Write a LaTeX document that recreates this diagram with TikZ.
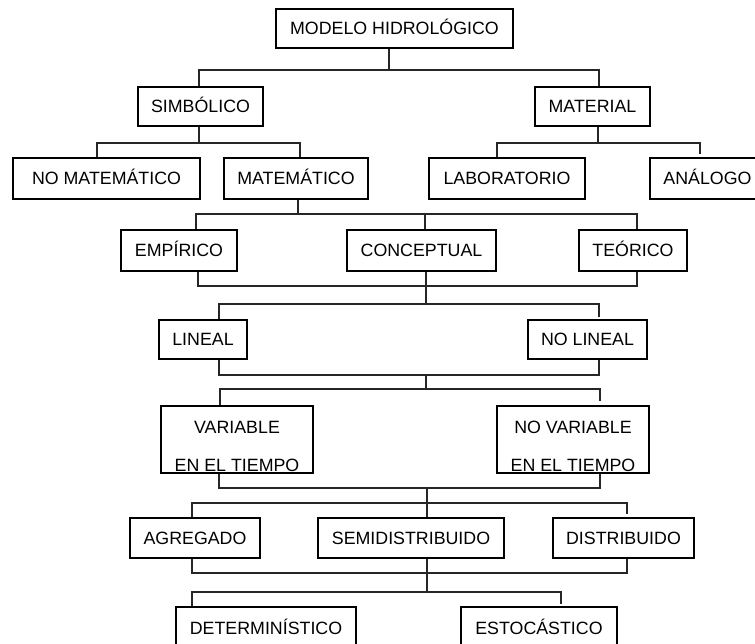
\documentclass[tikz,border=0pt]{standalone}
\usepackage{fontspec}
\setmainfont{Liberation Sans}
\tikzset{
  box/.style={draw=black, line width=1.3pt, rectangle, inner sep=0pt, fill=white,
    font=\fontsize{17.8}{20}\selectfont, text height=12.7pt, text depth=0pt},
  lbl/.style={inner sep=0pt, font=\fontsize{17.8}{20}\selectfont, text height=12.7pt, text depth=0pt},
  conn/.style={draw=black!85, line width=1.3pt},
}
\begin{document}
\begin{tikzpicture}[x=1pt,y=-1pt]
\useasboundingbox (0,0) rectangle (755,643);
\clip (0,0) rectangle (755,643);
\fill[white] (0,0) rectangle (755,643);
% boxes
\node[box, minimum width=237pt, minimum height=39pt] (m) at (394.5,28.5) {MODELO HIDROLÓGICO};
\node[box, minimum width=125pt, minimum height=39pt] (s) at (200.5,106.5) {SIMBÓLICO};
\node[box, minimum width=115pt, minimum height=39pt] (mt) at (592.5,106.5) {MATERIAL};
\node[box, minimum width=187pt, minimum height=41pt] (nm) at (106.5,178.5) {NO MATEMÁTICO};
\node[box, minimum width=144pt, minimum height=41pt] (ma) at (296,178.5) {MATEMÁTICO};
\node[box, minimum width=156pt, minimum height=41pt] (lab) at (507,178.5) {LABORATORIO};
\node[box, minimum width=115pt, minimum height=41pt] (an) at (707.5,178.5) {ANÁLOGO};
\node[box, minimum width=116pt, minimum height=41pt] (emp) at (179,250.5) {EMPÍRICO};
\node[box, minimum width=149pt, minimum height=41pt] (con) at (421.5,250.5) {CONCEPTUAL};
\node[box, minimum width=108pt, minimum height=41pt] (teo) at (633,250.5) {TEÓRICO};
\node[box, minimum width=88pt, minimum height=39pt] (lin) at (203,339.5) {LINEAL};
\node[box, minimum width=119pt, minimum height=39pt] (nol) at (587.5,339.5) {NO LINEAL};
\node[box, minimum width=152pt, minimum height=67pt] (var) at (237,439.5) {};
\node[lbl] (var1) at ([yshift=12.5pt]var.center) {VARIABLE};
\node[lbl] (var2) at ([yshift=-25.5pt]var.center) {EN EL TIEMPO};
\node[box, minimum width=152pt, minimum height=67pt] (nov) at (573,439.5) {};
\node[lbl] (nov1) at ([yshift=12.5pt]nov.center) {NO VARIABLE};
\node[lbl] (nov2) at ([yshift=-25.5pt]nov.center) {EN EL TIEMPO};
\node[box, minimum width=130pt, minimum height=40pt] (agr) at (195,538) {AGREGADO};
\node[box, minimum width=186pt, minimum height=40pt] (semi) at (411,538) {SEMIDISTRIBUIDO};
\node[box, minimum width=141pt, minimum height=40pt] (dis) at (623.5,538) {DISTRIBUIDO};
\node[box, minimum width=180pt, minimum height=42pt] (det) at (266,628) {DETERMINÍSTICO};
\node[box, minimum width=156pt, minimum height=42pt] (est) at (539,628) {ESTOCÁSTICO};
% connectors
\coordinate (b1) at (389,70);
\draw[conn] ([xshift=-5.5pt]m.south) -- (b1);
\draw[conn] ([xshift=-1.5pt]s.north) |- (b1) -| ([xshift=6.5pt]mt.north);
\coordinate (b2) at (199,143);
\draw[conn] ([xshift=-1.5pt]s.south) -- (b2);
\draw[conn] ([xshift=-9.5pt]nm.north) |- (b2) -| ([xshift=4pt]ma.north);
\coordinate (b3) at (598,143);
\draw[conn] ([xshift=5.5pt]mt.south) -- (b3);
\draw[conn] ([xshift=-10pt]lab.north) |- (b3) -| ([xshift=-7.5pt,yshift=3pt]an.north);
\coordinate (b4) at (298,214);
\draw[conn] ([xshift=2pt]ma.south) -- (b4);
\draw[conn] ([xshift=17pt]emp.north) |- (b4) -| ([xshift=4pt]teo.north);
\draw[conn] ([xshift=3.5pt]con.north) -- ([xshift=3.5pt]con.north |- b4);
\coordinate (b5) at (426,286);
\draw[conn] ([xshift=19pt]emp.south) |- (b5) -| ([xshift=4pt]teo.south);
\coordinate (b6) at (426,304);
\draw[conn] ([xshift=4.5pt]con.south) -- (b6);
\draw[conn] ([xshift=16pt]lin.north) |- (b6) -| ([xshift=11.5pt,yshift=2pt]nol.north);
\coordinate (b7) at (426,375);
\draw[conn] ([xshift=16pt]lin.south) |- (b7) -| ([xshift=11.5pt]nol.south);
\coordinate (b8) at (426,389);
\draw[conn] (b7) -- (b8);
\draw[conn] ([xshift=-17pt]var.north) |- (b8) -| ([xshift=27pt,yshift=4pt]nov.north);
\coordinate (b9) at (427,488);
\draw[conn] ([xshift=-18pt]var.south) |- (b9) -| ([xshift=27pt]nov.south);
\coordinate (b10) at (427,503);
\draw[conn] (b9) -- ([xshift=16pt]semi.north);
\draw[conn] ([xshift=-3pt]agr.north) |- (b10) -| ([xshift=3.5pt,yshift=3pt]dis.north);
\coordinate (b11) at (427,573);
\draw[conn] ([xshift=-3pt]agr.south) |- (b11) -| ([xshift=3.5pt]dis.south);
\coordinate (b12) at (427,592);
\draw[conn] ([xshift=16pt]semi.south) -- (b12);
\draw[conn] ([xshift=-74pt]det.north) |- (b12) -| ([xshift=22pt,yshift=2pt]est.north);
\end{tikzpicture}
\end{document}
